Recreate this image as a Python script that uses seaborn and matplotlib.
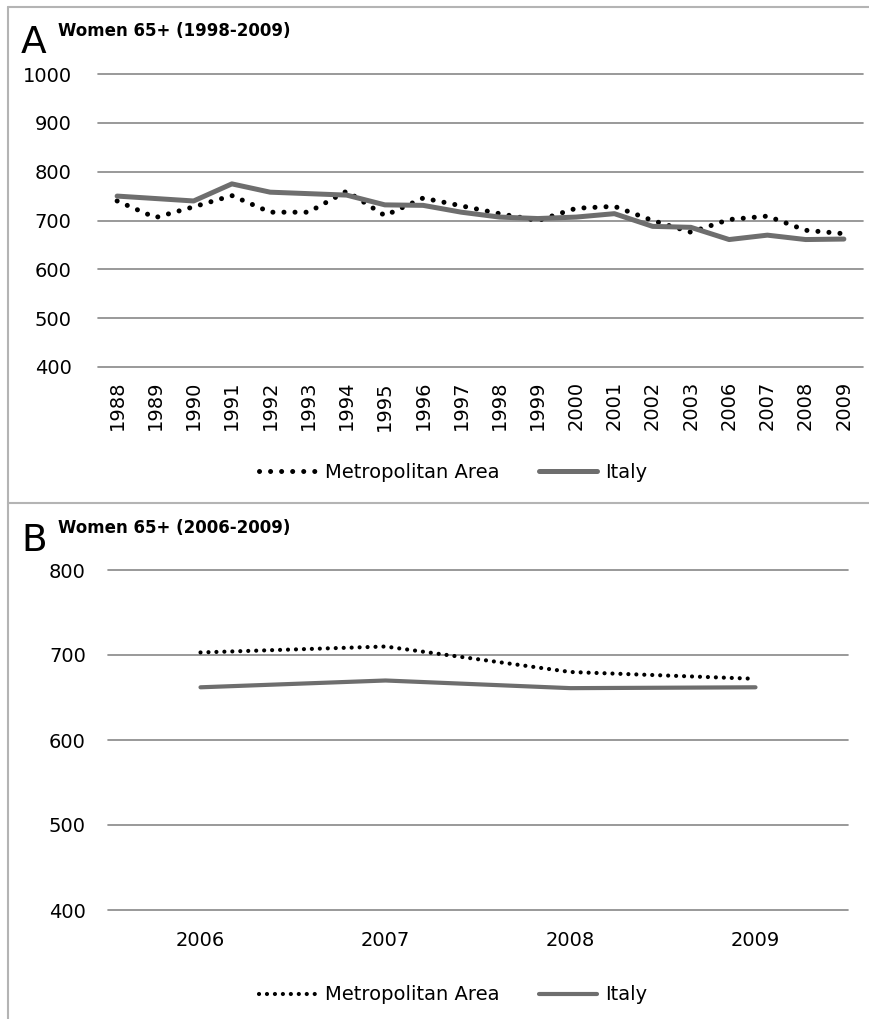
import matplotlib
matplotlib.use("Agg")
import matplotlib.pyplot as plt
from matplotlib.lines import Line2D
import seaborn as sns
import pandas as pd

# panel A: 1988-2009 (2004, 2005 missing in the source)
years_a = ['1988', '1989', '1990', '1991', '1992', '1993', '1994', '1995', '1996', '1997',
           '1998', '1999', '2000', '2001', '2002', '2003', '2006', '2007', '2008', '2009']
metro_a = [740, 706, 728, 751, 717, 717, 760, 710, 746, 730,
           714, 700, 725, 729, 700, 676, 702, 709, 680, 673]
italy_a = [750, 745, 740, 775, 758, 755, 752, 732, 731, 717,
           707, 704, 707, 714, 688, 686, 661, 670, 661, 662]

# panel B: 2006-2009
years_b = ['2006', '2007', '2008', '2009']
metro_b = [703, 710, 680, 672]
italy_b = [662, 670, 661, 662]

ticks_a = [400, 500, 600, 700, 800, 900, 1000]
ticks_b = [400, 500, 600, 700, 800]

df_a = pd.DataFrame({'year': years_a, 'Metropolitan Area': metro_a, 'Italy': italy_a})
df_b = pd.DataFrame({'year': years_b, 'Metropolitan Area': metro_b, 'Italy': italy_b})

sns.set_theme(style='white')
plt.rcParams['font.family'] = ['DejaVu Sans']
plt.rcParams['text.color'] = 'black'

W, H = 870, 1019
fig = plt.figure(figsize=(W / 100, H / 100), dpi=100)

def px(x0, y0, x1, y1):
    # pixel box -> figure fraction rect
    return [x0 / W, 1 - y1 / H, (x1 - x0) / W, (y1 - y0) / H]

grid_col = '#878787'
italy_col = '#6e6e6e'
fs = 14


def panel(ax, df, ticks, lw_dot, dot_gap, lw_line, rot, xpad, ypad):
    sns.lineplot(data=df, x='year', y='Metropolitan Area', ax=ax, sort=False,
                 color='black', lw=lw_dot, linestyle=(0, (0.01, dot_gap)),
                 dash_capstyle='round', label='Metropolitan Area', legend=False)
    sns.lineplot(data=df, x='year', y='Italy', ax=ax, sort=False,
                 color=italy_col, lw=lw_line, solid_capstyle='round',
                 label='Italy', legend=False)
    ax.set_xlim(-0.5, len(df) - 0.5)
    ax.set_ylim(ticks[0], ticks[-1])
    ax.set_yticks(ticks)
    for t in ticks:
        ax.axhline(t, color=grid_col, lw=1.2, zorder=0, clip_on=False)
    for s in ax.spines.values():
        s.set_visible(False)
    ax.set_xlabel('')
    ax.set_ylabel('')
    ax.tick_params(axis='both', length=0, labelsize=fs, colors='black')
    ax.tick_params(axis='x', pad=xpad, labelrotation=rot)
    ax.tick_params(axis='y', pad=ypad)
    ax.set_facecolor('none')


ax_a = fig.add_axes(px(98, 74, 863, 367))
panel(ax_a, df_a, ticks_a, 3.6, 2.2, 3.6, 90, 10, 19)

ax_b = fig.add_axes(px(108, 570, 848, 910))
panel(ax_b, df_b, ticks_b, 3.0, 1.9, 3.0, 0, 15, 16)

# frame lines of the two chart areas
border = '#b4b4b4'
for xs, ys in [([8, 870], [7, 7]), ([8, 8], [7, H]), ([8, 870], [503, 503])]:
    fig.add_artist(Line2D([x / W for x in xs], [1 - y / H for y in ys],
                          color=border, lw=1.5, transform=fig.transFigure))

# panel letters and titles
fig.text(21 / W, 1 - 53 / H, 'A', fontsize=27, va='baseline', color='black')
fig.text(58 / W, 1 - 36 / H, 'Women 65+ (1998-2009)', fontsize=12,
         fontweight='bold', va='baseline', color='black')
fig.text(21 / W, 1 - 551 / H, 'B', fontsize=27, va='baseline', color='black')
fig.text(58 / W, 1 - 533 / H, 'Women 65+ (2006-2009)', fontsize=12,
         fontweight='bold', va='baseline', color='black')

# legends
for ax, yc in [(ax_a, 472), (ax_b, 995)]:
    handles = ax.get_lines()[:2]
    leg = fig.legend(handles, ['Metropolitan Area', 'Italy'], loc='center',
                     bbox_to_anchor=(453 / W, 1 - yc / H), ncol=2, frameon=False,
                     fontsize=fs, handlelength=3.0, handletextpad=0.4,
                     columnspacing=2.0)
    for t in leg.get_texts():
        t.set_color('black')

fig.savefig('out.png', dpi=100)
